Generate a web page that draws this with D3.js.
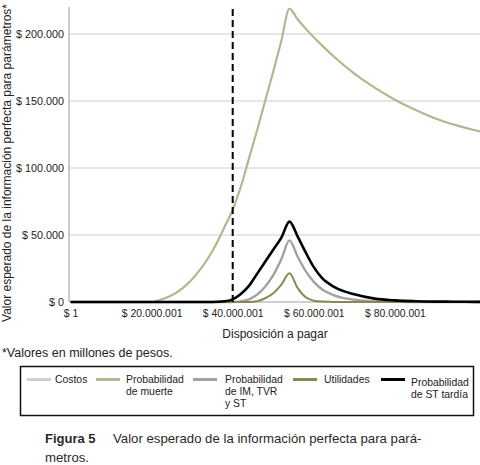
<!DOCTYPE html>
<html><head><meta charset="utf-8">
<script src="https://cdn.jsdelivr.net/npm/d3@7"></script>
<style>
body{margin:0;background:#fff;}
svg{display:block;}
text{font-family:"Liberation Sans",Arial,sans-serif;}
</style></head>
<body>
<svg id="c" width="480" height="465"></svg>
<script>
// x values in millions of pesos
const xMillions = [0,10,20,22,25,30,35,38,40,42,44,46,48,50,52,54,56,58,60,62,65,70,75,80,85,90,95,100,101];
const costos   = [0,0,0,0,0,0,0,0,0,0,0,0,0,0,0,0,0,0,0,0,0,0,0,0,0,0,0,0,0];
const muerte   = [0,0,0,1.5,5,17,38,56,69,86,107,128,150,172,195,219,211,204,197.5,191.5,183,170.5,160,151,143.5,137,132,128,127.3];
const imTvrSt  = [0,0,0,0,0,0,0,0,0,0.5,2,5.5,11.4,20,32,46,34,23,15,9.5,5,1.7,0.5,0.2,0,0,0,0,0];
const utilidades=[0,0,0,0,0,0,0,0,0,0,0,0.5,2.8,6.5,13,21.4,10.5,3.5,1,0.3,0,0,0,0,0,0,0,0,0];
const stTardia = [0,0,0,0,0,0,0,0.5,2,6,12,21,30,39,48,60,49,37,26,18,11.3,5.7,2.5,1.2,0.6,0.3,0.2,0.1,0.1];
const yTicks = [0,50000,100000,150000,200000];
const yTickLabels = ["$ 0","$ 50.000","$ 100.000","$ 150.000","$ 200.000"];
const xTicks = [1,20000001,40000001,60000001,80000001];
const xTickLabels = ["$ 1","$ 20.000.001","$ 40.000.001","$ 60.000.001","$ 80.000.001"];
const thresholdX = 40000001;
const seriesNames = ["Costos","Probabilidad de muerte","Probabilidad de IM, TVR y ST","Utilidades","Probabilidad de ST tardía"];
const seriesColors = ["#d0d0d0","#b6b590","#a2a2a2","#8c8656","#000000"];

const svg = d3.select("#c");
const x = d3.scaleLinear().domain([0,100e6]).range([70.5,476]);
const y = d3.scaleLinear().domain([0,220000]).range([302,7.2]);

// gridlines
svg.append("g").selectAll("line").data(yTicks).join("line")
  .attr("x1",69).attr("x2",480).attr("y1",d=>y(d)).attr("y2",d=>y(d))
  .attr("stroke","#cfcfcf").attr("stroke-width",1.2);
// y axis line
svg.append("line").attr("x1",69).attr("x2",69).attr("y1",7).attr("y2",302)
  .attr("stroke","#b0b0b0").attr("stroke-width",1.3);

// y tick labels
const yAxis = d3.axisLeft(y).tickValues(yTicks).tickSize(0).tickPadding(5)
  .tickFormat((d,i)=>yTickLabels[i]);
const gy = svg.append("g").attr("transform","translate(69,0)").call(yAxis);
gy.select(".domain").remove();
gy.selectAll("text").attr("font-size",10.8).attr("fill","#222").attr("font-family","Liberation Sans, Arial");

const xAxis = d3.axisBottom(x).tickValues(xTicks).tickSize(0).tickPadding(8)
  .tickFormat((d,i)=>xTickLabels[i]);
const gx = svg.append("g").attr("transform","translate(0,302)").call(xAxis);
gx.select(".domain").remove();
gx.selectAll("text").attr("font-size",10.4).attr("fill","#222").attr("font-family","Liberation Sans, Arial");

// lines
const all = [costos,muerte,imTvrSt,utilidades,stTardia];
const widths = [2,2.2,2.4,2,2.6];
const line = d3.line().x((d,i)=>x(xMillions[i]*1e6)).y(d=>y(d*1000)).curve(d3.curveMonotoneX);
all.forEach((s,k)=>{
  svg.append("path").datum(s).attr("d",line).attr("fill","none")
    .attr("stroke",seriesColors[k]).attr("stroke-width",widths[k]).attr("stroke-linejoin","round");
});

// dashed threshold
svg.append("line").attr("x1",x(thresholdX)).attr("x2",x(thresholdX)).attr("y1",9).attr("y2",302)
  .attr("stroke","#000").attr("stroke-width",2).attr("stroke-dasharray","7,4");

// axis titles
svg.append("text").attr("x",275).attr("y",338).attr("text-anchor","middle")
  .attr("font-size",12).attr("fill","#222").text("Disposición a pagar");
svg.append("text").attr("transform","translate(11,163) rotate(-90)").attr("text-anchor","middle")
  .attr("font-size",12).attr("fill","#222").text("Valor esperado de la información perfecta para parámetros*");
svg.append("text").attr("x",2).attr("y",357).attr("font-size",12.5).attr("fill","#222")
  .text("*Valores en millones de pesos.");

// legend
svg.append("rect").attr("x",20.5).attr("y",366.5).attr("width",453).attr("height",49)
  .attr("fill","none").attr("stroke","#111").attr("stroke-width",1.5);
const legendItems = [
  {lx:27, tx:55, lines:["Costos"], dy:0},
  {lx:96, tx:126, lines:["Probabilidad","de muerte"], dy:0},
  {lx:193, tx:225, lines:["Probabilidad","de IM, TVR","y ST"], dy:0},
  {lx:293, tx:324, lines:["Utilidades"], dy:0},
  {lx:381, tx:411, lines:["Probabilidad","de ST tardía"], dy:2.5}
];
legendItems.forEach((it,k)=>{
  svg.append("line").attr("x1",it.lx).attr("x2",it.lx+24).attr("y1",379.5).attr("y2",379.5)
    .attr("stroke",seriesColors[k]).attr("stroke-width",3);
  const t = svg.append("text").attr("font-size",10.4).attr("fill","#222");
  it.lines.forEach((l,j)=>{
    t.append("tspan").attr("x",it.tx).attr("y",383+it.dy+j*12).text(l);
  });
});

// caption
svg.append("text").attr("x",45).attr("y",443).attr("font-size",13).attr("font-family","Lato, sans-serif")
  .attr("font-weight",700).attr("fill","#2a2a2a").text("Figura 5");
svg.append("text").attr("x",113).attr("y",443).attr("font-size",13.2).attr("font-family","Lato, sans-serif")
  .attr("fill","#2a2a2a").text("Valor esperado de la información perfecta para pará-");
svg.append("text").attr("x",45).attr("y",462).attr("font-size",13.2).attr("font-family","Lato, sans-serif")
  .attr("fill","#2a2a2a").text("metros.");
</script>
</body></html>
